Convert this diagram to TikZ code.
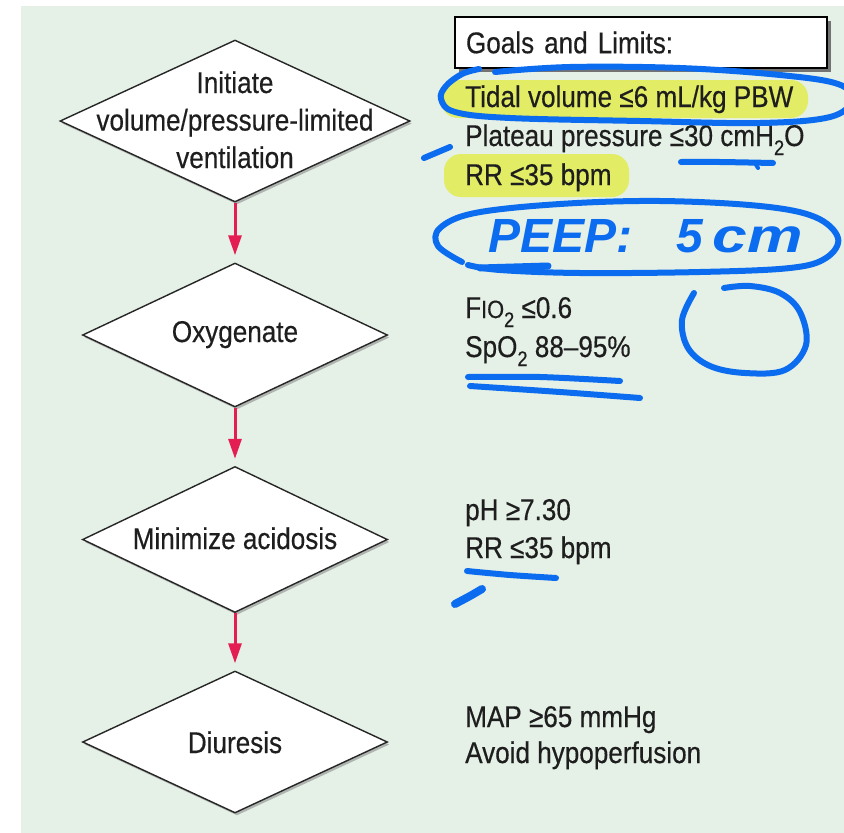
\documentclass[tikz,border=0pt]{standalone}
\usepackage{fontspec}
\usepackage{graphicx}
\setmainfont{Liberation Sans}[FakeStretch=0.87, FakeBold=0.4]
\newfontfamily\handfont{Liberation Sans}
\usetikzlibrary{shapes.geometric,arrows.meta,shadows}

\definecolor{bgmint}{RGB}{229,240,231}
\definecolor{txt}{RGB}{30,30,30}
\definecolor{arrred}{RGB}{228,30,82}
\definecolor{hblue}{RGB}{12,108,240}
\definecolor{hilite}{RGB}{226,236,100}

\newcommand\lowsub[1]{\raisebox{-0.3em}{\fontsize{21}{21}\selectfont #1}}
\newcommand\smallcaps[1]{{\fontsize{25}{25}\selectfont #1}}

\begin{document}
\begin{tikzpicture}[x=1pt,y=-1pt,
  dia/.style={shape=diamond, draw=black!85, line width=1.4pt, fill=white, inner sep=0pt,
    drop shadow={shadow xshift=2pt, shadow yshift=-2.5pt, fill=black!45, opacity=0.6}},
  diatext/.style={font=\fontsize{30}{37.5}\selectfont, text=txt, align=center, anchor=base, inner sep=0pt},
  note/.style={font=\fontsize{30}{36}\selectfont, text=txt, anchor=base west, inner sep=0pt},
  flow/.style={draw=arrred, line width=3pt, -{Triangle[length=20pt,width=13pt]}, shorten >=7pt},
  hand/.style={draw=hblue, line width=6pt, line cap=round, line join=round},
  goalbox/.style={draw=black, line width=2pt, fill=white, anchor=north west,
    minimum width=372pt, minimum height=51pt, text width=350pt, align=left,
    inner xsep=11pt, inner ysep=0pt, font=\fontsize{30}{36}\selectfont, text=txt,
    drop shadow={shadow xshift=4pt, shadow yshift=-4pt, fill=black!55, opacity=1}},
  hilitebox/.style={fill=hilite, rounded corners=17pt}
]
\useasboundingbox (0,0) rectangle (844,833);
\fill[bgmint] (21,6) rectangle (844,833);

% flow chart diamonds
\node[dia, minimum width=350pt, minimum height=162pt] (d1) at (235,121) {};
\node[dia, minimum width=305pt, minimum height=144pt] (d2) at (235,335) {};
\node[dia, minimum width=305pt, minimum height=146pt] (d3) at (235,539.5) {};
\node[dia, minimum width=305pt, minimum height=142pt] (d4) at (235,742) {};

% multi-line label: the base anchor sits on its last line
\node[diatext] (t1) at (235,168) {Initiate\\volume/pressure-limited\\ventilation};
\node[diatext] (t2) at (235,342) {Oxygenate};
\node[diatext] (t3) at (235,549) {Minimize acidosis};
\node[diatext] (t4) at (235,753) {Diuresis};

\draw[flow] (d1.south) -- (d2.north);
\draw[flow] (d2.south) -- (d3.north);
\draw[flow] (d3.south) -- (d4.north);

% goals column
\node[goalbox] (goals) at (454,16) {Goals and Limits:};

\fill[hilitebox] (441,80) rectangle (808,118);
\fill[hilitebox] (444,154) rectangle (629,197);

\node[note] (g1) at (465,107) {Tidal volume ≤6 mL/kg PBW};
\node[note] (g2) at (465,146) {Plateau pressure ≤30 cmH\lowsub{2}O};
\node[note] (g3) at (465,185) {RR ≤35 bpm};
\node[note] (o1) at (465,318) {F\smallcaps{IO}\lowsub{2} ≤0.6};
\node[note] (o2) at (465,357) {SpO\lowsub{2} 88–95\%};
\node[note] (a1) at (465,520) {pH ≥7.30};
\node[note] (a2) at (465,558) {RR ≤35 bpm};
\node[note] (m1) at (465,727) {MAP ≥65 mmHg};
\node[note] (m2) at (465,763) {Avoid hypoperfusion};

% pen annotations
\draw[hand] plot[smooth, tension=0.6] coordinates {(479,69) (462,74) (446,86) (441,99) (455,112)
  (510,118) (640,121) (760,123) (830,117) (852,100) (838,84) (780,75) (680,68) (570,67) (495,72)};
\draw[hand] (424,158) -- (450,147);
\draw[hand] plot[smooth] coordinates {(681,162) (720,162) (773,163)};
\draw[hand, line width=4pt] (755,163) -- (758,168);

\node[font=\handfont\itshape\fontsize{48}{48}\selectfont, text=hblue, anchor=base west,
  inner sep=0pt] (peep) at (488,252)
  {\textbf{PEEP:}\hspace{44pt}\textbf{5}\hspace{10pt}\scalebox{1.3}[1]{\textbf{cm}}};
\draw[hand] plot[smooth, tension=0.6] coordinates {(462,262) (438,246) (440,228) (475,213) (560,204)
  (660,201) (760,206) (815,217) (838,238) (826,258) (790,268) (700,272) (580,273) (500,270) (468,265)};
\draw[hand, line width=7pt] (480,268) -- (548,266);

\draw[hand] plot[smooth, tension=0.6] coordinates {(694,293) (682,320) (688,348) (710,366) (745,373)
  (785,370) (806,345) (800,312) (780,293) (750,286) (724,288)};

\draw[hand] plot[smooth] coordinates {(468,377) (540,377) (620,381)};
\draw[hand] plot[smooth] coordinates {(470,386) (560,392) (640,398)};

\draw[hand] plot[smooth] coordinates {(467,571) (510,575) (556,578)};
\draw[hand, line width=8pt] plot[smooth] coordinates {(455,604) (470,596) (482,589)};
\end{tikzpicture}
\end{document}
